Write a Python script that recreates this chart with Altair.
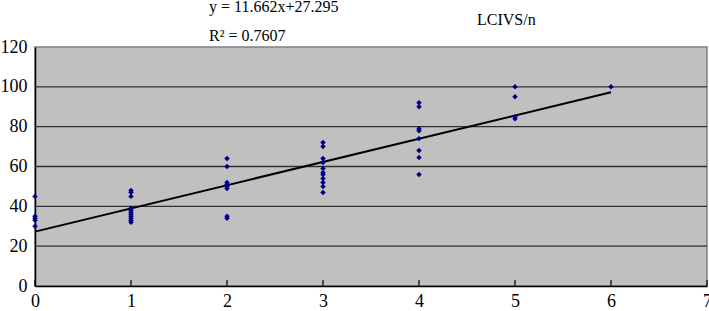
import altair as alt
import pandas as pd

# --- data ---
levels = [0, 1, 2, 3, 4, 5, 6]
values_0 = [45, 35, 34, 33, 30]
values_1 = [48, 47, 45, 39, 38, 37, 36, 35, 34, 33, 32]
values_2 = [64, 60, 52, 51, 50, 49, 35, 34]
values_3 = [72, 70, 64, 62, 59, 57, 56, 54, 52, 50, 47]
values_4 = [92, 90, 79, 78, 74, 68, 64.5, 56]
values_5 = [100, 95, 85, 84]
values_6 = [100]

slope = 11.662
intercept = 27.295
trend_x = [0, 6]

x_ticks = [0, 1, 2, 3, 4, 5, 6, 7]
y_ticks = [0, 20, 40, 60, 80, 100, 120]
grid_values = [20, 40, 60, 80, 100]

eq_text = "y = 11.662x+27.295"
r2_text = "R\u00b2 = 0.7607"
series_text = "LCIVS/n"

# --- tables ---
groups = [values_0, values_1, values_2, values_3, values_4, values_5, values_6]
rows = []
for lv, vals in zip(levels, groups):
    for v in vals:
        rows.append({"x": lv, "y": v})
pts = pd.DataFrame(rows)
trend = pd.DataFrame({"x": trend_x, "y": [intercept + slope * t for t in trend_x]})
grid = pd.DataFrame({"y": grid_values})
ticks = pd.DataFrame({"x": x_ticks})

W, H = 672, 239
FONT = "Liberation Serif"

xscale = alt.Scale(domain=[0, 7], nice=False, zero=False)
yscale = alt.Scale(domain=[0, 120], nice=False)

xaxis = alt.Axis(values=x_ticks, grid=False, ticks=False, labelPadding=6,
                 title=None, labelFlush=False)
yaxis = alt.Axis(values=y_ticks, grid=False, ticks=False, labelPadding=8, title=None)

grid_layer = alt.Chart(grid).mark_rule(color="#303030", strokeWidth=1.3).encode(
    y=alt.Y("y:Q", scale=yscale, axis=yaxis)
)

tick_layer = alt.Chart(ticks).mark_rule(color="#000000", strokeWidth=1.2).encode(
    x=alt.X("x:Q", scale=xscale, axis=xaxis),
    y=alt.value(H - 6),
    y2=alt.value(H),
)

trend_layer = alt.Chart(trend).mark_line(color="#000000", strokeWidth=2).encode(
    x=alt.X("x:Q", scale=xscale, axis=xaxis),
    y=alt.Y("y:Q", scale=yscale, axis=yaxis),
)

pts_layer = alt.Chart(pts).mark_point(shape="diamond", filled=True, color="#000080",
                                      size=30, opacity=1).encode(
    x=alt.X("x:Q", scale=xscale, axis=xaxis),
    y=alt.Y("y:Q", scale=yscale, axis=yaxis),
)

def label(txt, px, py):
    return alt.Chart(pd.DataFrame({"t": [txt]})).mark_text(
        align="left", baseline="alphabetic", font=FONT, fontSize=16, color="#000000"
    ).encode(text="t:N", x=alt.value(px), y=alt.value(py))

chart = alt.layer(
    grid_layer, trend_layer, pts_layer, tick_layer,
    label(eq_text, 174, -35),
    label(r2_text, 174, -6),
    label(series_text, 442, -22),
).properties(
    width=W, height=H,
    autosize=alt.AutoSizeParams(type="none"),
    padding={"left": 35, "top": 47, "right": 2, "bottom": 25},
).configure_view(
    fill="#C0C0C0", stroke="#808080", strokeWidth=1.5
).configure_axis(
    labelFont=FONT, labelFontSize=18, labelColor="#000000",
    domainColor="#000000", domainWidth=1.5
)

chart.save("out.html", embed_options={"renderer": "svg", "actions": False})
